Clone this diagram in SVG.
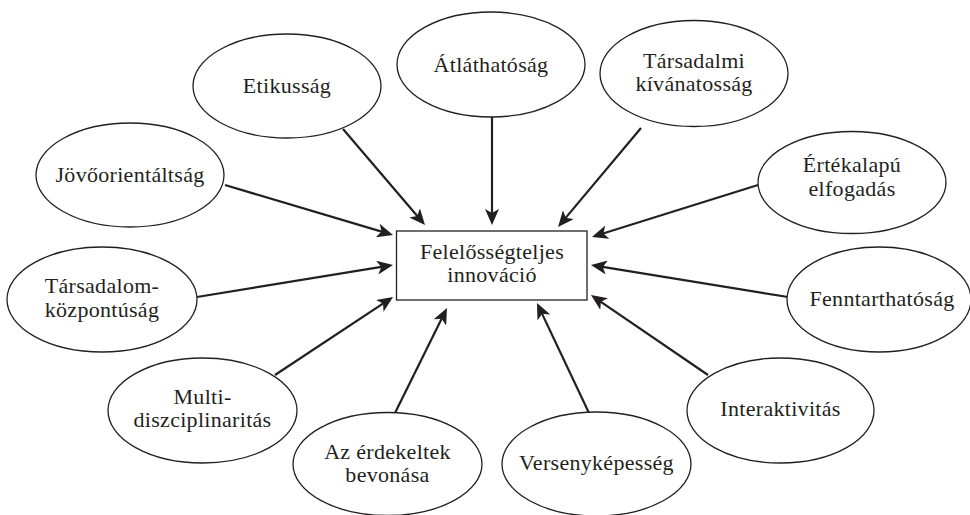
<svg xmlns="http://www.w3.org/2000/svg" width="970" height="515" viewBox="0 0 970 515">
<style>
  .n ellipse{fill:#fff;stroke:#231f20;stroke-width:1.3}
  .n rect{fill:#fff;stroke:#231f20;stroke-width:1.3}
  .n text{font-family:"Liberation Serif","DejaVu Serif",serif;font-size:22px;letter-spacing:0.3px;fill:#231f20;text-anchor:middle}
  #connectors line{stroke:#231f20;stroke-width:2.2;fill:none;marker-end:url(#arr)}
</style>
<defs>
  <marker id="arr" markerUnits="userSpaceOnUse" viewBox="0 0 16 14" markerWidth="16" markerHeight="14" refX="12" refY="7" orient="auto">
    <path d="M0,0 L16,7 L0,14 L4,7 Z" fill="#231f20"/>
  </marker>
</defs>
<rect width="970" height="515" fill="#fff"/>
<g id="connectors">
  <line x1="225" y1="185" x2="389.2" y2="233.9"/>
  <line x1="343" y1="129" x2="422.4" y2="222"/>
  <line x1="492" y1="117" x2="492" y2="221"/>
  <line x1="641" y1="128" x2="560.6" y2="223.9"/>
  <line x1="758" y1="185" x2="595.8" y2="235.8"/>
  <line x1="197" y1="297" x2="389.1" y2="265.6"/>
  <line x1="788" y1="297" x2="594.9" y2="265.6"/>
  <line x1="275" y1="375" x2="389.7" y2="299.2"/>
  <line x1="708" y1="375" x2="594.3" y2="297.3"/>
  <line x1="395" y1="413" x2="445.2" y2="311.6"/>
  <line x1="589" y1="413" x2="538.7" y2="306.6"/>
</g>
<g id="center" class="n">
  <rect x="396.5" y="231" width="190.5" height="69"/>
  <text x="492" y="259">Felelősségteljes</text>
  <text x="492" y="282">innováció</text>
</g>
<g id="atlathatosag" class="n">
  <ellipse cx="491" cy="64.5" rx="94" ry="52.5"/>
  <text x="491" y="72">Átláthatóság</text>
</g>
<g id="etikussag" class="n">
  <ellipse cx="287" cy="86" rx="94" ry="52"/>
  <text x="287" y="93">Etikusság</text>
</g>
<g id="tarsadalmi" class="n">
  <ellipse cx="694" cy="73.5" rx="94" ry="53"/>
  <text x="694" y="67.5">Társadalmi</text>
  <text x="694" y="90.5">kívánatosság</text>
</g>
<g id="jovoorientaltsag" class="n">
  <ellipse cx="130" cy="175" rx="94" ry="52"/>
  <text x="130" y="182">Jövőorientáltság</text>
</g>
<g id="ertekalapu" class="n">
  <ellipse cx="852" cy="182.5" rx="94" ry="51"/>
  <text x="852" y="172">Értékalapú</text>
  <text x="852" y="196">elfogadás</text>
</g>
<g id="tarsadalom" class="n">
  <ellipse cx="102" cy="299.5" rx="95" ry="52.5"/>
  <text x="102" y="293">Társadalom-</text>
  <text x="102" y="317">központúság</text>
</g>
<g id="fenntarthatosag" class="n">
  <ellipse cx="879" cy="299.5" rx="92" ry="52.5"/>
  <text x="882" y="305.5">Fenntarthatóság</text>
</g>
<g id="multi" class="n">
  <ellipse cx="202.5" cy="410.5" rx="94.5" ry="52.5"/>
  <text x="202.5" y="404">Multi-</text>
  <text x="202.5" y="427">diszciplinaritás</text>
</g>
<g id="interaktivitas" class="n">
  <ellipse cx="780.5" cy="410.5" rx="93.5" ry="52.5"/>
  <text x="780.5" y="416">Interaktivitás</text>
</g>
<g id="erdekeltek" class="n">
  <ellipse cx="387.5" cy="464" rx="94.5" ry="51.5"/>
  <text x="387.5" y="459">Az érdekeltek</text>
  <text x="387.5" y="482">bevonása</text>
</g>
<g id="versenykepesseg" class="n">
  <ellipse cx="596.5" cy="464" rx="94.5" ry="52"/>
  <text x="596.5" y="470">Versenyképesség</text>
</g>
</svg>
